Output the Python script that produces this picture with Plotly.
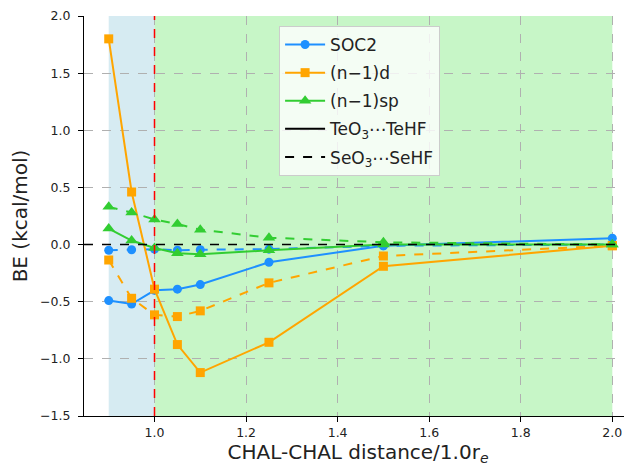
import plotly.graph_objects as go

x = [0.9, 0.95, 1.0, 1.05, 1.1, 1.25, 1.5, 2.0]

soc2_te = [-0.49, -0.52, -0.40, -0.39, -0.35, -0.155, -0.01, 0.055]
soc2_se = [-0.05, -0.045, -0.04, -0.05, -0.045, -0.04, -0.01, 0.0]
d_te = [1.80, 0.46, -0.39, -0.875, -1.12, -0.855, -0.19, -0.01]
d_se = [-0.135, -0.47, -0.615, -0.63, -0.58, -0.335, -0.10, -0.01]
sp_te = [0.14, 0.035, -0.03, -0.075, -0.085, -0.05, 0.0, 0.0]
sp_se = [0.33, 0.28, 0.22, 0.18, 0.13, 0.06, 0.02, 0.0]

series_names = ["SOC2", "(n\u22121)d", "(n\u22121)sp"]
colors = ["#1E90FF", "#FFA500", "#32CD32"]
symbols = ["circle", "square", "triangle-up"]
marker_sizes = [9, 9, 11]
te_data = [soc2_te, d_te, sp_te]
se_data = [soc2_se, d_se, sp_se]

blue_region = [0.9, 1.0]
green_region = [1.0, 2.0]
ref_x = 1.0
ref_y = 0.0

fig = go.Figure()

fig.add_vrect(x0=blue_region[0], x1=blue_region[1], fillcolor="rgba(173,216,230,0.5)",
              line_width=0, layer="below")
fig.add_vrect(x0=green_region[0], x1=green_region[1], fillcolor="rgba(144,238,144,0.5)",
              line_width=0, layer="below")

for name, c, s, ms, te, se in zip(series_names, colors, symbols, marker_sizes, te_data, se_data):
    fig.add_trace(go.Scatter(x=x, y=te, mode="lines+markers", showlegend=False,
                             line=dict(color=c, width=2),
                             marker=dict(symbol=s, size=ms, color=c)))
    fig.add_trace(go.Scatter(x=x, y=se, mode="lines+markers", showlegend=False,
                             line=dict(color=c, width=2, dash="dash"),
                             marker=dict(symbol=s, size=ms, color=c)))

for i, (name, c, s, ms) in enumerate(zip(series_names, colors, symbols, marker_sizes)):
    fig.add_trace(go.Scatter(x=[None], y=[None], mode="lines+markers", name=name,
                             legendgroup=f"g{i}",
                             line=dict(color=c, width=2),
                             marker=dict(symbol=s, size=ms, color=c)))
fig.add_trace(go.Scatter(x=[None], y=[None], mode="lines", name="TeO<sub>3</sub>\u22efTeHF",
                         legendgroup="g3", line=dict(color="black", width=2)))
fig.add_trace(go.Scatter(x=[None], y=[None], mode="lines", name="SeO<sub>3</sub>\u22efSeHF",
                         legendgroup="g4", line=dict(color="black", width=2, dash="dash")))

fig.add_vline(x=ref_x, line=dict(color="red", width=1.5, dash="dash"))
fig.add_hline(y=ref_y, line=dict(color="black", width=1.5, dash="dash"))

axis_common = dict(
    showgrid=True, gridcolor="#b0b0b0", griddash="dash", gridwidth=1,
    showline=True, linecolor="black", linewidth=1.2,
    ticks="outside", ticklen=5, tickcolor="black",
    tickfont=dict(family="DejaVu Sans", size=12.5, color="#222"),
    zeroline=False, mirror=False, ticklabeloverflow="allow",
)

fig.update_layout(
    width=624, height=458,
    margin=dict(l=76, r=0, t=6, b=50),
    plot_bgcolor="white", paper_bgcolor="white",
    font=dict(family="DejaVu Sans", color="#222"),
    xaxis=dict(range=[0.846, 2.043], tickvals=[1.0, 1.2, 1.4, 1.6, 1.8, 2.0], tickformat=".1f",
               ticklabelstandoff=0,
               title=dict(text="CHAL-CHAL distance/1.0r<sub><i>e</i></sub>",
                          font=dict(size=20), standoff=7),
               **axis_common),
    yaxis=dict(range=[-1.5, 2.0], dtick=0.5, tickformat=".1f",
               ticklabelstandoff=5,
               title=dict(text="BE (kcal/mol)", font=dict(size=20), standoff=10),
               **axis_common),
    legend=dict(x=0.356, y=0.975, xanchor="left", yanchor="top",
                bgcolor="rgba(255,255,255,0.8)", bordercolor="#cccccc", borderwidth=1,
                font=dict(family="DejaVu Sans", size=17, color="#222"),
                itemwidth=40, tracegroupgap=3),
)

fig.write_html("out.html")
